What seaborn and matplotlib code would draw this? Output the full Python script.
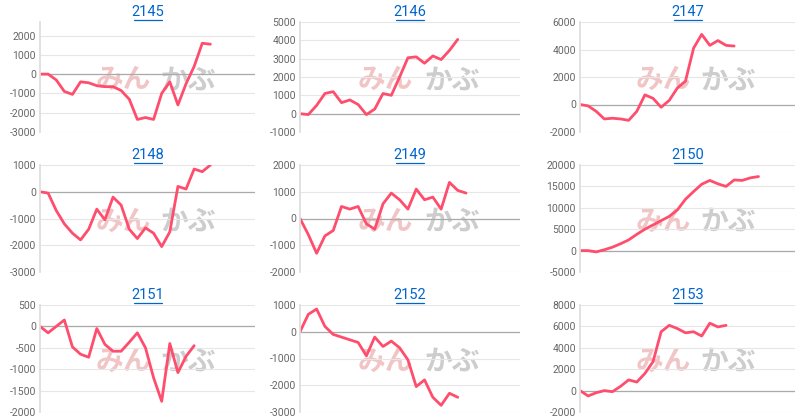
import matplotlib
matplotlib.use("Agg")
import matplotlib.pyplot as plt
from matplotlib.lines import Line2D
import seaborn as sns
import numpy as np

sns.set_theme(style="white")
plt.rcParams['font.family'] = ['Roboto', 'Noto Sans CJK JP', 'DejaVu Sans']

titles = ["2145", "2146", "2147", "2148", "2149", "2150", "2151", "2152", "2153"]
s2145 = [0,0,-300,-900,-1050,-400,-450,-600,-650,-650,-850,-1300,-2350,-2250,-2350,-1000,-400,-1600,-500,400,1600,1550]
s2146 = [0,-50,450,1100,1200,600,750,500,-50,250,1100,1000,2000,3050,3100,2750,3150,2950,3450,4050]
s2147 = [0,-100,-500,-1050,-1000,-1050,-1150,-500,700,450,-200,300,1200,1700,4100,5100,4300,4650,4300,4250]
s2148 = [0,-50,-700,-1200,-1550,-1800,-1400,-650,-1050,-200,-500,-1400,-1750,-1350,-1550,-2050,-1500,200,100,850,750,1000]
s2149 = [0,-600,-1300,-650,-450,450,350,450,-200,-400,550,950,700,350,1100,700,800,350,1350,1050,950]
s2150 = [0,0,-300,200,800,1600,2500,3800,5000,6000,7000,8000,9500,12000,13800,15500,16400,15600,15000,16500,16400,17000,17300]
s2151 = [0,-150,0,150,-480,-650,-720,-50,-420,-580,-580,-370,-150,-500,-1200,-1750,-400,-1080,-700,-450]
s2152 = [0,650,850,200,-100,-200,-300,-400,-900,-200,-550,-350,-600,-1050,-2050,-1800,-2450,-2750,-2300,-2450]
s2153 = [0,-500,-200,0,-100,400,1000,800,1600,2700,5500,6100,5800,5400,5500,5100,6300,5950,6100]
series = [s2145, s2146, s2147, s2148, s2149, s2150, s2151, s2152, s2153]
ylims = [(-3000, 2700, 1000), (-1000, 5000, 1000), (-2000, 6000, 2000),
         (-3000, 1000, 1000), (-2000, 2000, 1000), (-5000, 20000, 5000),
         (-2000, 500, 500), (-3000, 1000, 1000), (-2000, 8000, 2000)]

fig = plt.figure(figsize=(8, 4.2), dpi=100)
lefts = [40/800, 300/800, 580/800]
widths = [215/800, 220/800, 215/800]
rows = [(22, 132), (165, 272), (305, 412)]
for i, (t, s, yl) in enumerate(zip(titles, series, ylims)):
    r, c = divmod(i, 3)
    top, bot = rows[r]
    ax = fig.add_axes([lefts[c], 1 - bot/420, widths[c], (bot - top)/420])
    x = np.arange(len(s))
    ax.text(0.39, 0.47, "みん", transform=ax.transAxes, fontsize=20, fontweight='bold',
            color="#e08080", alpha=0.45, ha='center', va='center',
            family=['Noto Sans CJK JP'], zorder=0)
    ax.text(0.69, 0.47, "かぶ", transform=ax.transAxes, fontsize=20, fontweight='bold',
            color="#909090", alpha=0.45, ha='center', va='center',
            family=['Noto Sans CJK JP'], zorder=0)
    sns.lineplot(x=x, y=s, ax=ax, color="#ff4d6d", linewidth=2)
    ax.set_xlim(0, 26.5)
    ax.set_ylim(yl[0], yl[1])
    ticks = np.arange(yl[0], yl[1] + 1, yl[2])
    ax.set_yticks(ticks)
    ax.set_yticklabels([str(int(v)) for v in ticks], fontsize=7.5, color="#666666")
    ax.set_xticks([])
    ax.grid(axis='y', color="#e6e6e6", linewidth=0.8)
    ax.axhline(0, color="#aaaaaa", linewidth=0.9, zorder=1)
    for sp in ["top", "right", "bottom"]:
        ax.spines[sp].set_visible(False)
    ax.spines["left"].set_color("#dddddd")
    ax.tick_params(axis='y', length=0, pad=3)
    cx = lefts[c] + widths[c] / 2
    ty = 1 - (top - 10)/420
    fig.text(cx, ty, t, ha='center', va='center', fontsize=10.5, color="#0066cc")
    fig.add_artist(Line2D([cx - 14/800, cx + 14/800], [ty - 8/420, ty - 8/420],
                          color="#0066cc", linewidth=0.9, transform=fig.transFigure))

fig.savefig("out.png", dpi=100)
